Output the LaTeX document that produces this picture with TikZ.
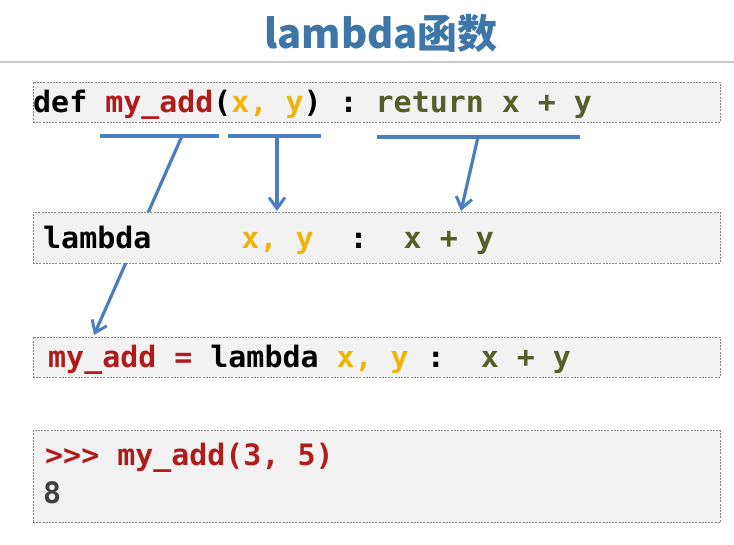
\documentclass[tikz,border=0pt]{standalone}
\usepackage{fontspec}
\usetikzlibrary{arrows.meta}
\newfontfamily\codefont[FakeStretch=1.015]{DejaVu Sans Mono}
\newfontfamily\titlefont{Noto Sans CJK SC}
\definecolor{titleblue}{RGB}{62,118,168}
\definecolor{codered}{RGB}{176,28,28}
\definecolor{codegold}{RGB}{238,180,10}
\definecolor{codeolive}{RGB}{85,95,40}
\definecolor{codegray}{RGB}{64,64,64}
\definecolor{linkblue}{RGB}{76,126,190}
\definecolor{boxfill}{RGB}{242,242,242}
\definecolor{boxborder}{RGB}{130,130,130}
\definecolor{rulegray}{RGB}{200,200,200}
\newcommand\mysp{\hphantom{0}}
\tikzset{
  codebox/.style={draw=boxborder, fill=boxfill, line width=0.9pt, dash pattern=on 2pt off 1.2pt, rectangle, inner sep=0pt},
  codetext/.style={anchor=base west, inner sep=0pt, font=\codefont\bfseries\fontsize{29.5}{38}\selectfont},
  link/.style={draw=linkblue, line width=3.2pt},
  linkarrow/.style={link, -{Straight Barb[length=11pt,width=16pt,line width=3pt]}},
}
\begin{document}
\begin{tikzpicture}[x=1pt,y=-1pt]
\useasboundingbox (0,0) rectangle (734,544);
\fill[white] (0,0) rectangle (734,544);

% title
\node[anchor=base, inner sep=0pt, text=titleblue, font=\titlefont\bfseries\fontsize{40}{46}\selectfont] (title) at (381,48) {lambda函数};
\coordinate (ruleL) at (0,62);
\coordinate (ruleR) at (734,62);
\draw[rulegray, line width=2.4pt] (ruleL) -- (ruleR);

% bars and arrow ends
\coordinate (bar1a) at (100,136);
\coordinate (bar1b) at (219,136);
\coordinate (bar2a) at (228,136);
\coordinate (bar2b) at (321,136);
\coordinate (bar3a) at (377,137);
\coordinate (bar3b) at (580,137);
\coordinate (src1) at (182,136);
\coordinate (src2) at (277,136);
\coordinate (src3) at (478,137);
\coordinate (dst1) at (94,335);
\coordinate (dst2) at (277,211);
\coordinate (dst3) at (461,211);

% arrow passing behind box 2
\draw[linkarrow] (src1) -- (dst1);

% boxes
\node[codebox, minimum width=687pt, minimum height=40pt] (box1) at (376.5,102) {};
\node[codebox, minimum width=687pt, minimum height=51pt] (box2) at (376.5,237.5) {};
\node[codebox, minimum width=687pt, minimum height=40pt] (box3) at (376.5,357) {};
\node[codebox, minimum width=687pt, minimum height=92pt] (box4) at (376.5,476.5) {};

% bars and other arrows
\draw[link] (bar1a) -- (bar1b);
\draw[link] (bar2a) -- (bar2b);
\draw[link] (bar3a) -- (bar3b);
\draw[linkarrow] (src2) -- (dst2);
\draw[linkarrow] (src3) -- (dst3);

% texts
\node[codetext] (line1) at (33,112) {def\mysp\textcolor{codered}{my\_add}(\textcolor{codegold}{x,\mysp y})\mysp:\mysp\textcolor{codeolive}{return\mysp x\mysp+\mysp y}};
\node[codetext] (line2) at (43,248) {lambda\mysp\mysp\mysp\mysp\mysp\textcolor{codegold}{x,\mysp y}\mysp\mysp:\mysp\mysp\textcolor{codeolive}{x\mysp+\mysp y}};
\node[codetext] (line3) at (48,367) {\textcolor{codered}{my\_add\mysp=}\mysp lambda\mysp\textcolor{codegold}{x,\mysp y}\mysp:\mysp\mysp\textcolor{codeolive}{x\mysp+\mysp y}};
\node[codetext, text=codered] (line4) at (45,465) {>{}>{}>\mysp my\_add(3,\mysp 5)};
\node[codetext, text=codegray] (line5) at (43,503) {8};
\end{tikzpicture}
\end{document}
